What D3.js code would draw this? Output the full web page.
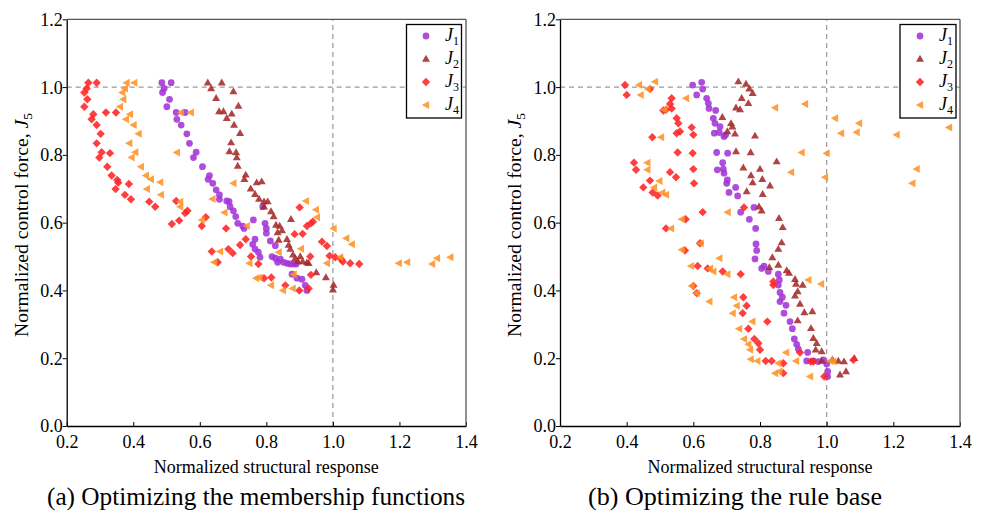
<!DOCTYPE html>
<html><head><meta charset="utf-8">
<script src="https://cdn.jsdelivr.net/npm/d3@7"></script>
<style>body{margin:0;background:#fff;}</style>
</head><body>
<svg id="c" width="982" height="512"></svg>
<script>
const xTicks = [0.2,0.4,0.6,0.8,1.0,1.2,1.4];
const yTicks = [0.0,0.2,0.4,0.6,0.8,1.0,1.2];
const seriesNames = ["1","2","3","4"];
const captions = ["(a) Optimizing the membership functions","(b) Optimizing the rule base"];
const xTitle = "Normalized structural response";

// Panel (a)
const a_J1 = [[0.486,1.013],[0.514,1.013],[0.488,0.984],[0.493,0.996],[0.509,0.964],[0.501,0.942],[0.529,0.925],[0.556,0.925],[0.531,0.905],[0.544,0.888],[0.561,0.862],[0.569,0.834],[0.589,0.808],[0.581,0.792],[0.608,0.765],[0.629,0.739],[0.625,0.728],[0.639,0.716],[0.649,0.697],[0.659,0.682],[0.659,0.669],[0.681,0.664],[0.688,0.662],[0.691,0.647],[0.701,0.635],[0.708,0.618],[0.714,0.598],[0.729,0.590],[0.733,0.583],[0.761,0.608],[0.766,0.551],[0.759,0.536],[0.766,0.522],[0.776,0.513],[0.781,0.498],[0.789,0.647],[0.796,0.598],[0.800,0.583],[0.800,0.569],[0.812,0.546],[0.827,0.532],[0.817,0.500],[0.827,0.495],[0.834,0.483],[0.842,0.492],[0.852,0.483],[0.862,0.480],[0.872,0.478],[0.882,0.478],[0.890,0.478],[0.877,0.448],[0.892,0.436],[0.907,0.433],[0.917,0.415],[0.922,0.400]];
const a_J2 = [[0.624,1.013],[0.666,1.013],[0.634,0.996],[0.701,0.987],[0.649,0.967],[0.716,0.944],[0.658,0.928],[0.671,0.928],[0.696,0.921],[0.681,0.908],[0.703,0.888],[0.721,0.864],[0.694,0.836],[0.689,0.810],[0.709,0.807],[0.711,0.792],[0.714,0.767],[0.738,0.741],[0.734,0.728],[0.771,0.718],[0.786,0.721],[0.753,0.700],[0.766,0.684],[0.778,0.670],[0.793,0.662],[0.804,0.662],[0.793,0.647],[0.814,0.633],[0.822,0.618],[0.829,0.593],[0.840,0.590],[0.847,0.577],[0.834,0.571],[0.862,0.551],[0.837,0.549],[0.867,0.534],[0.872,0.522],[0.874,0.610],[0.880,0.505],[0.887,0.495],[0.895,0.485],[0.902,0.500],[0.909,0.485],[0.922,0.482],[0.927,0.480],[0.950,0.453],[0.979,0.438],[1.002,0.416],[1.000,0.402]];
const a_J3 = [[0.265,1.013],[0.290,1.013],[0.260,0.996],[0.253,0.984],[0.262,0.964],[0.253,0.942],[0.280,0.920],[0.275,0.905],[0.318,0.925],[0.348,0.925],[0.290,0.888],[0.302,0.862],[0.290,0.834],[0.305,0.808],[0.330,0.805],[0.298,0.792],[0.322,0.765],[0.335,0.739],[0.352,0.726],[0.355,0.718],[0.387,0.714],[0.347,0.699],[0.375,0.682],[0.393,0.669],[0.448,0.662],[0.466,0.647],[0.529,0.664],[0.563,0.635],[0.556,0.628],[0.538,0.606],[0.516,0.596],[0.618,0.616],[0.606,0.590],[0.679,0.583],[0.738,0.551],[0.721,0.534],[0.686,0.522],[0.699,0.510],[0.636,0.515],[0.654,0.483],[0.754,0.500],[0.776,0.478],[0.793,0.436],[0.815,0.438],[0.857,0.415],[0.899,0.400],[0.934,0.446],[0.900,0.645],[0.885,0.566],[0.909,0.567],[0.922,0.590],[0.934,0.598],[0.940,0.603],[0.932,0.500],[0.967,0.544],[0.982,0.531],[0.990,0.502],[1.007,0.498],[1.025,0.492],[1.030,0.485],[1.052,0.480],[1.079,0.478],[0.927,0.406]];
const a_J4 = [[0.380,1.013],[0.403,1.013],[0.375,0.996],[0.367,0.984],[0.370,0.964],[0.360,0.942],[0.543,0.925],[0.573,0.925],[0.390,0.920],[0.378,0.905],[0.401,0.888],[0.416,0.862],[0.388,0.834],[0.406,0.808],[0.395,0.792],[0.423,0.765],[0.438,0.739],[0.453,0.728],[0.481,0.719],[0.441,0.699],[0.483,0.682],[0.531,0.807],[0.541,0.662],[0.541,0.647],[0.638,0.670],[0.606,0.608],[0.674,0.630],[0.701,0.716],[0.741,0.590],[0.749,0.480],[0.837,0.513],[0.661,0.515],[0.643,0.483],[0.769,0.436],[0.779,0.438],[0.814,0.415],[0.850,0.400],[0.879,0.406],[0.882,0.448],[0.904,0.523],[0.919,0.664],[0.949,0.638],[0.952,0.616],[1.002,0.583],[1.040,0.554],[1.057,0.536],[0.982,0.480],[1.022,0.498],[1.198,0.480],[1.223,0.483],[1.298,0.478],[1.313,0.495],[1.353,0.498]];

// Panel (b)
const b_J1 = [[0.598,1.006],[0.625,1.014],[0.628,0.994],[0.610,0.977],[0.640,0.967],[0.645,0.952],[0.647,0.937],[0.667,0.931],[0.660,0.908],[0.665,0.893],[0.680,0.883],[0.678,0.866],[0.663,0.864],[0.692,0.854],[0.697,0.859],[0.670,0.807],[0.703,0.805],[0.688,0.777],[0.672,0.756],[0.690,0.758],[0.692,0.746],[0.702,0.726],[0.700,0.716],[0.727,0.704],[0.707,0.689],[0.733,0.679],[0.782,0.645],[0.742,0.631],[0.768,0.610],[0.787,0.583],[0.788,0.537],[0.790,0.518],[0.785,0.493],[0.805,0.465],[0.812,0.472],[0.825,0.456],[0.855,0.448],[0.858,0.431],[0.855,0.416],[0.860,0.394],[0.867,0.380],[0.860,0.367],[0.878,0.356],[0.872,0.333],[0.890,0.308],[0.897,0.287],[0.903,0.257],[0.910,0.241],[0.915,0.227],[0.943,0.217],[0.940,0.192],[0.960,0.192],[0.975,0.190],[0.990,0.195],[1.000,0.183],[1.003,0.161],[1.003,0.146]];
const b_J2 = [[0.735,1.016],[0.758,1.009],[0.768,0.995],[0.778,0.982],[0.745,0.967],[0.765,0.952],[0.728,0.939],[0.740,0.934],[0.687,0.911],[0.713,0.893],[0.717,0.883],[0.702,0.869],[0.725,0.862],[0.785,0.856],[0.728,0.810],[0.772,0.807],[0.850,0.780],[0.750,0.762],[0.800,0.758],[0.773,0.739],[0.807,0.728],[0.778,0.718],[0.830,0.709],[0.808,0.684],[0.760,0.692],[0.797,0.647],[0.805,0.635],[0.857,0.613],[0.868,0.586],[0.865,0.541],[0.855,0.522],[0.837,0.497],[0.855,0.475],[0.828,0.468],[0.880,0.459],[0.887,0.451],[0.905,0.433],[0.908,0.419],[0.928,0.416],[0.913,0.397],[0.905,0.384],[0.920,0.360],[0.933,0.335],[0.957,0.338],[0.913,0.311],[0.953,0.288],[0.960,0.259],[0.970,0.244],[0.967,0.225],[0.985,0.220],[1.052,0.190],[1.035,0.192],[1.040,0.151],[1.058,0.161],[1.083,0.200],[0.985,0.192],[1.017,0.195]];
const b_J3 = [[0.395,1.006],[0.400,0.977],[0.470,0.994],[0.535,0.967],[0.530,0.950],[0.535,0.937],[0.518,0.933],[0.510,0.931],[0.550,0.908],[0.555,0.893],[0.595,0.881],[0.600,0.859],[0.550,0.864],[0.560,0.869],[0.477,0.852],[0.553,0.807],[0.598,0.805],[0.422,0.777],[0.428,0.756],[0.600,0.758],[0.530,0.749],[0.548,0.734],[0.602,0.716],[0.470,0.724],[0.450,0.704],[0.478,0.689],[0.493,0.680],[0.752,0.645],[0.628,0.631],[0.577,0.610],[0.518,0.583],[0.620,0.539],[0.575,0.518],[0.613,0.472],[0.643,0.465],[0.688,0.456],[0.742,0.448],[0.840,0.426],[0.840,0.416],[0.600,0.413],[0.610,0.392],[0.750,0.380],[0.760,0.355],[0.748,0.333],[0.822,0.308],[0.765,0.287],[0.783,0.257],[0.795,0.244],[0.800,0.225],[0.920,0.217],[0.817,0.192],[0.835,0.192],[0.870,0.185],[0.870,0.156],[0.960,0.190],[1.080,0.195],[0.993,0.146],[0.952,0.190]];
const b_J4 = [[0.437,1.006],[0.485,1.016],[0.463,0.994],[0.442,0.977],[0.578,0.967],[0.513,0.933],[0.845,0.939],[0.935,0.950],[0.503,0.852],[1.025,0.908],[1.097,0.893],[1.043,0.864],[1.090,0.867],[1.210,0.859],[1.367,0.881],[0.925,0.807],[1.000,0.805],[0.462,0.777],[0.462,0.756],[0.893,0.749],[0.995,0.734],[1.270,0.758],[1.257,0.716],[0.498,0.723],[0.482,0.704],[0.507,0.689],[0.518,0.682],[0.703,0.631],[0.565,0.610],[0.533,0.583],[0.622,0.539],[0.565,0.520],[0.678,0.495],[0.593,0.472],[0.650,0.465],[0.660,0.456],[0.702,0.448],[0.945,0.431],[0.983,0.419],[0.595,0.413],[0.610,0.392],[0.648,0.367],[0.722,0.380],[0.730,0.355],[0.718,0.333],[0.777,0.308],[0.737,0.287],[0.752,0.257],[0.765,0.241],[0.770,0.225],[0.878,0.217],[0.772,0.197],[0.792,0.192],[0.855,0.185],[0.858,0.161],[0.908,0.192],[0.950,0.146],[1.010,0.192],[1.020,0.190],[0.845,0.156]];

const colors = ["#a334d6","#a52a2a","#ff2424","#ff9326"];
const panels = [
  {x0:66.7, x1:466, series:[a_J1,a_J2,a_J3,a_J4], cap:captions[0], capX:256, capW:418, leg:{x0:406.5, x1:461.5, mx:426, tx:445}},
  {x0:560, x1:960, series:[b_J1,b_J2,b_J3,b_J4], cap:captions[1], capX:735, capW:294, leg:{x0:900, x1:956, mx:920, tx:939}}
];
const yTop = 19.3, yBot = 426;
const FONT = "Liberation Serif";
const svg = d3.select("#c");

function markerPath(i){
  if (i === 0) return d3.symbol().type(d3.symbolCircle).size(36)();
  if (i === 1) return "M0,-4.2L4,2.7L-4,2.7Z";
  if (i === 2) return "M0,-4.2L4.2,0L0,4.2L-4.2,0Z";
  return "M-4.2,0L3.1,-4L3.1,4Z";
}

panels.forEach(p => {
  const x = d3.scaleLinear().domain([0.2,1.4]).range([p.x0,p.x1]);
  const y = d3.scaleLinear().domain([0,1.2]).range([yBot,yTop]);
  const g = svg.append("g").attr("font-family", FONT);
  // reference lines
  g.append("line").attr("x1",x(0.2)).attr("x2",x(1.4)).attr("y1",y(1.0)).attr("y2",y(1.0))
    .attr("stroke","#999").attr("stroke-width",1.2).attr("stroke-dasharray","5,4");
  g.append("line").attr("x1",x(1.0)).attr("x2",x(1.0)).attr("y1",y(0)).attr("y2",y(1.2))
    .attr("stroke","#999").attr("stroke-width",1.2).attr("stroke-dasharray","5,4");
  // points
  p.series.forEach((s,i) => {
    g.append("g").selectAll("path").data(s).join("path")
      .attr("d", markerPath(i))
      .attr("transform", d => `translate(${x(d[0])},${y(d[1])})`)
      .attr("fill", colors[i]).attr("fill-opacity", 0.88);
  });
  // axes
  const xa = g.append("g").attr("transform",`translate(0,${yBot})`)
    .call(d3.axisBottom(x).tickValues(xTicks).tickFormat(d3.format(".1f")).tickSizeInner(-4).tickSizeOuter(0));
  const ya = g.append("g").attr("transform",`translate(${p.x0},0)`)
    .call(d3.axisLeft(y).tickValues(yTicks).tickFormat(d3.format(".1f")).tickSizeInner(4).tickSizeOuter(0));
  [xa,ya].forEach(a => {
    a.attr("font-family", FONT).attr("font-size", 18);
    a.selectAll("path").attr("stroke","#000").attr("stroke-width",1.3);
    a.selectAll("line").attr("stroke","#000").attr("stroke-width",1);
    a.selectAll("text").attr("fill","#000").style("font-family",FONT).style("font-size","18px");
  });
  xa.selectAll(".tick text").attr("y",9).attr("dy","0.71em");
  ya.selectAll(".tick text").attr("x",-4).attr("dy","0.33em");
  // top and right frame
  g.append("line").attr("x1",x(0.2)).attr("x2",x(1.4)).attr("y1",yTop).attr("y2",yTop).attr("stroke","#555").attr("stroke-width",1.3);
  g.append("line").attr("x1",x(1.4)).attr("x2",x(1.4)).attr("y1",yTop).attr("y2",yBot).attr("stroke","#555").attr("stroke-width",1.3);
  // x title
  g.append("text").attr("x",(p.x0+p.x1)/2).attr("y",473).attr("text-anchor","middle")
    .attr("font-size",19).attr("textLength",225).attr("lengthAdjust","spacingAndGlyphs").text(xTitle);
  // y title
  const yt = g.append("text").attr("transform",`translate(${p.x0-39},225) rotate(-90)`)
    .attr("text-anchor","middle").attr("font-size",19).attr("textLength",224).attr("lengthAdjust","spacingAndGlyphs");
  yt.append("tspan").text("Normalized control force, ");
  yt.append("tspan").attr("font-style","italic").text("J");
  yt.append("tspan").attr("font-size",13).attr("dy",4).text("5");
  // caption
  g.append("text").attr("x",p.capX).attr("y",505).attr("text-anchor","middle")
    .attr("font-size",25).attr("textLength",p.capW).attr("lengthAdjust","spacingAndGlyphs").text(p.cap);
  // legend
  const L = p.leg;
  g.append("rect").attr("x",L.x0).attr("y",24.5).attr("width",L.x1-L.x0).attr("height",93.5)
    .attr("fill","#fff").attr("stroke","#000").attr("stroke-width",1.3);
  seriesNames.forEach((n,i) => {
    const yy = 36 + i*23;
    g.append("path").attr("d", markerPath(i)).attr("transform",`translate(${L.mx},${yy})`)
      .attr("fill",colors[i]).attr("fill-opacity",0.88);
    const t = g.append("text").attr("x",L.tx).attr("y",yy+5).attr("font-size",18);
    t.append("tspan").attr("font-style","italic").text("J");
    t.append("tspan").attr("font-size",12).attr("dy",4).text(n);
  });
});
</script>
</body></html>
